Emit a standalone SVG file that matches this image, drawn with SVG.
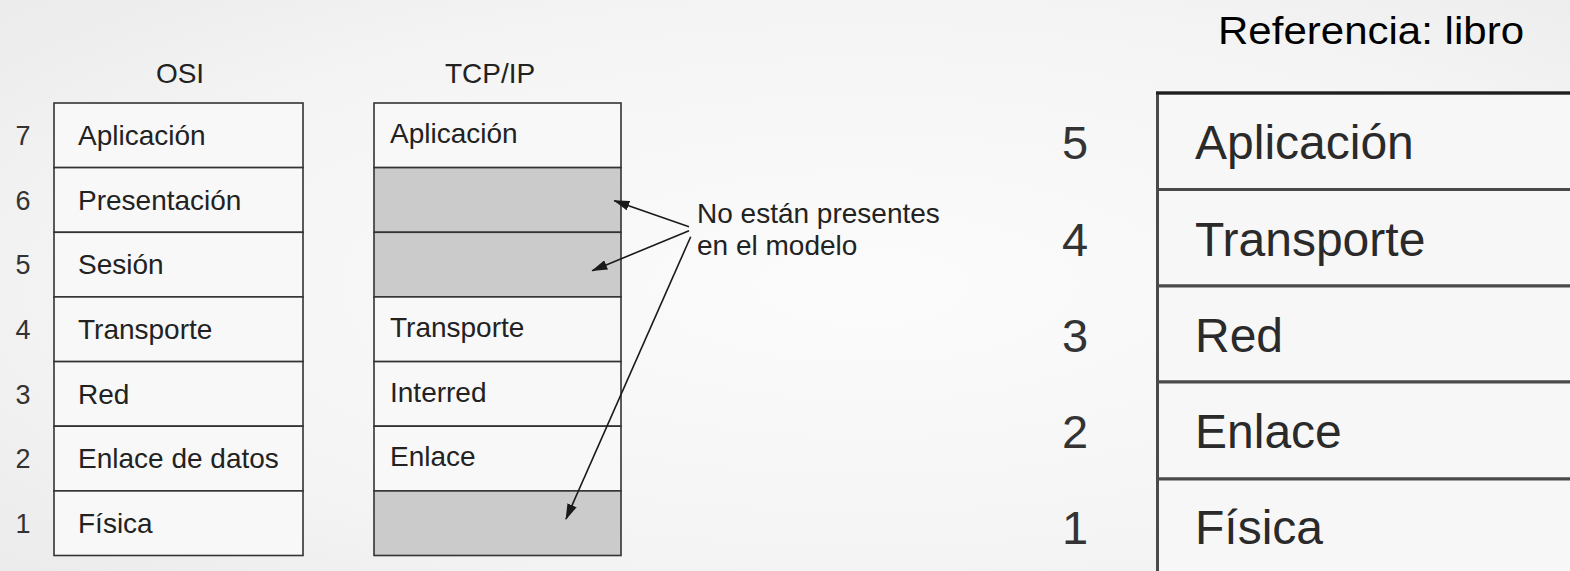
<svg xmlns="http://www.w3.org/2000/svg" width="1570" height="571" viewBox="0 0 1570 571">
<defs>
<radialGradient id="bg" cx="0.55" cy="0.5" r="0.75">
<stop offset="0" stop-color="#fbfbfb"/>
<stop offset="0.6" stop-color="#f5f5f5"/>
<stop offset="1" stop-color="#ebebeb"/>
</radialGradient>
<marker id="ah" markerWidth="16" markerHeight="10" refX="15" refY="5" orient="auto" markerUnits="userSpaceOnUse">
<path d="M0,0 L16,5 L0,10 Z" fill="#1a1a1a"/>
</marker>
</defs>
<style>
.t{font-family:"Liberation Sans",Arial,sans-serif;font-size:28px;fill:#222}
.n{font-family:"Liberation Sans",Arial,sans-serif;font-size:27px;fill:#333;text-anchor:middle}
.T{font-family:"Liberation Sans",Arial,sans-serif;font-size:48px;fill:#2a2a2a}
.N{font-family:"Liberation Sans",Arial,sans-serif;font-size:47px;fill:#333;text-anchor:middle}
.cell{fill:#f8f8f8;stroke:#333;stroke-width:1.6}
.gray{fill:#cbcbcb;stroke:#333;stroke-width:1.6}
.big{fill:#f7f7f7;stroke:#4a4a4a;stroke-width:3}
.arr{stroke:#1a1a1a;stroke-width:1.6;fill:none}
</style>
<rect width="1570" height="571" fill="url(#bg)"/>

<g id="osi">
<text class="t" x="180" y="83" text-anchor="middle">OSI</text>
<rect class="cell" x="54" y="103" width="249" height="64.6"/>
<rect class="cell" x="54" y="167.6" width="249" height="64.7"/>
<rect class="cell" x="54" y="232.3" width="249" height="64.6"/>
<rect class="cell" x="54" y="296.9" width="249" height="64.7"/>
<rect class="cell" x="54" y="361.6" width="249" height="64.6"/>
<rect class="cell" x="54" y="426.2" width="249" height="64.7"/>
<rect class="cell" x="54" y="490.9" width="249" height="64.6"/>
<text class="n" x="23" y="145">7</text>
<text class="n" x="23" y="209.6">6</text>
<text class="n" x="23" y="274.3">5</text>
<text class="n" x="23" y="338.9">4</text>
<text class="n" x="23" y="403.6">3</text>
<text class="n" x="23" y="468.2">2</text>
<text class="n" x="23" y="532.9">1</text>
<text class="t" x="78" y="145">Aplicación</text>
<text class="t" x="78" y="209.6">Presentación</text>
<text class="t" x="78" y="274.3">Sesión</text>
<text class="t" x="78" y="338.9">Transporte</text>
<text class="t" x="78" y="403.6">Red</text>
<text class="t" x="78" y="468.2">Enlace de datos</text>
<text class="t" x="78" y="532.9">Física</text>
</g>

<g id="tcpip">
<text class="t" x="490" y="83" text-anchor="middle">TCP/IP</text>
<rect class="cell" x="374" y="103" width="247" height="64.6"/>
<rect class="gray" x="374" y="167.6" width="247" height="64.7"/>
<rect class="gray" x="374" y="232.3" width="247" height="64.6"/>
<rect class="cell" x="374" y="296.9" width="247" height="64.7"/>
<rect class="cell" x="374" y="361.6" width="247" height="64.6"/>
<rect class="cell" x="374" y="426.2" width="247" height="64.7"/>
<rect class="gray" x="374" y="490.9" width="247" height="64.6"/>
<text class="t" x="390" y="143">Aplicación</text>
<text class="t" x="390" y="337">Transporte</text>
<text class="t" x="390" y="401.6">Interred</text>
<text class="t" x="390" y="466">Enlace</text>
</g>

<g id="note">
<text class="t" x="697" y="223">No están presentes</text>
<text class="t" x="697" y="255">en el modelo</text>
</g>

<g id="connectors">
<line class="arr" x1="689" y1="226.7" x2="614.3" y2="200.7" marker-end="url(#ah)"/>
<line class="arr" x1="689" y1="230.7" x2="592.3" y2="270.7" marker-end="url(#ah)"/>
<line class="arr" x1="690.7" y1="236.7" x2="566" y2="519" marker-end="url(#ah)"/>
</g>

<g id="referencia">
<text x="1218" y="44" textLength="306" lengthAdjust="spacingAndGlyphs" style="font-family:'Liberation Sans',Arial,sans-serif;font-size:38px;fill:#000">Referencia: libro</text>
</g>

<g id="libro">
<rect class="big" x="1157.5" y="189.5" width="430" height="96.5"/>
<rect class="big" x="1157.5" y="286" width="430" height="96"/>
<rect class="big" x="1157.5" y="382" width="430" height="97"/>
<rect class="big" x="1157.5" y="479" width="430" height="110"/>
<rect class="big" x="1157.5" y="93" width="430" height="96.5"/>
<line x1="1156" y1="93" x2="1570" y2="93" stroke="#1e1e1e" stroke-width="3.2"/>
<text class="N" x="1075" y="159">5</text>
<text class="N" x="1075" y="255.5">4</text>
<text class="N" x="1075" y="352">3</text>
<text class="N" x="1075" y="448">2</text>
<text class="N" x="1075" y="544">1</text>
<text class="T" x="1195" y="159">Aplicación</text>
<text class="T" x="1195" y="255.5">Transporte</text>
<text class="T" x="1195" y="352">Red</text>
<text class="T" x="1195" y="448">Enlace</text>
<text class="T" x="1195" y="544">Física</text>
</g>
</svg>
